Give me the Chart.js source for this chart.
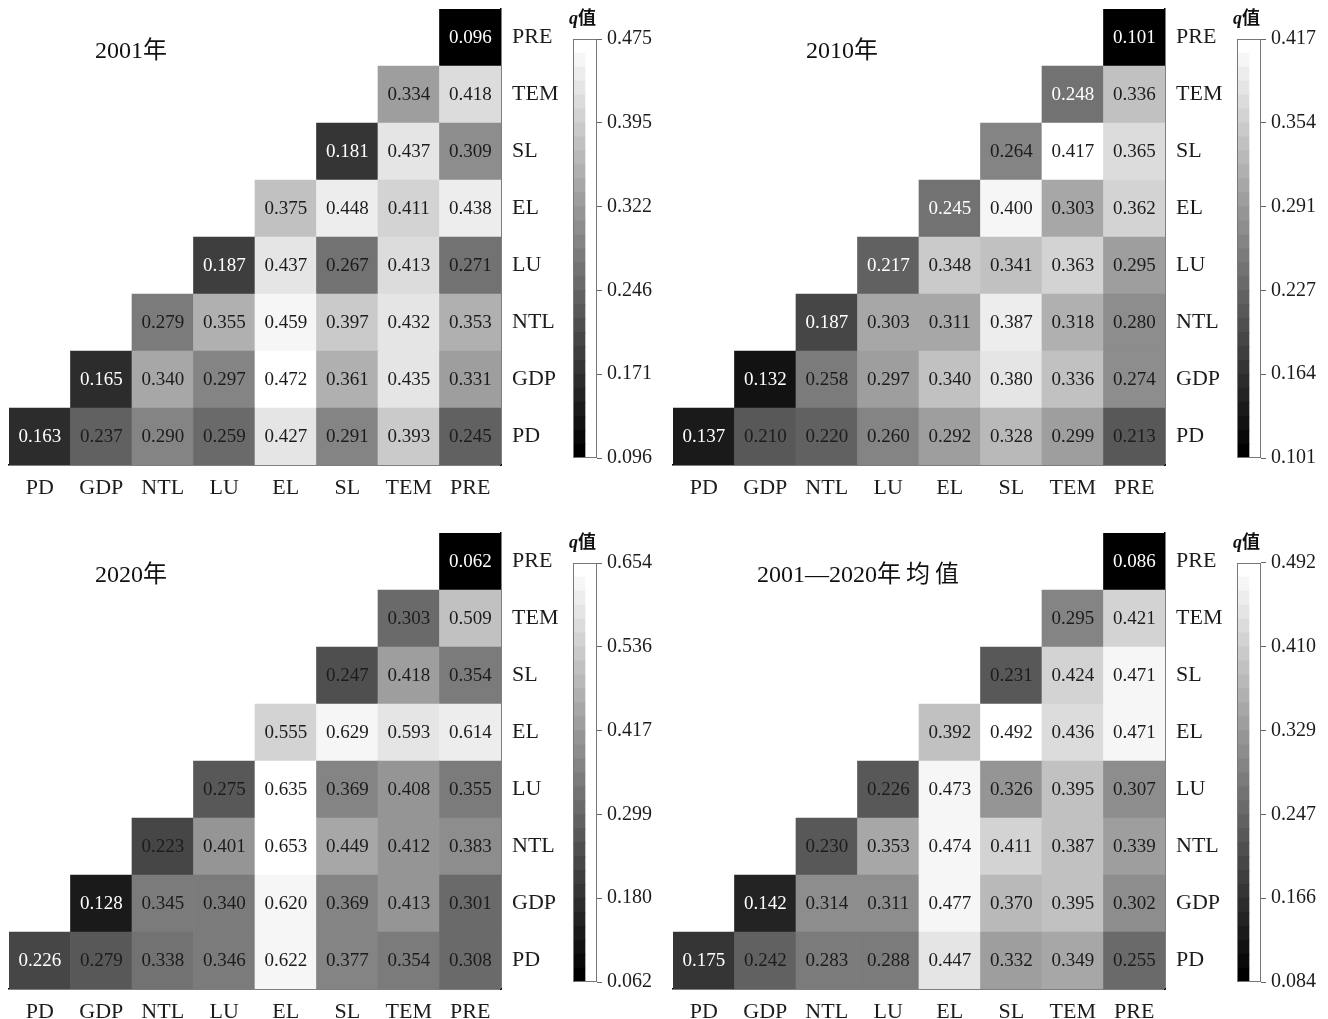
<!DOCTYPE html>
<html>
<head>
<meta charset="utf-8">
<script src="https://cdn.jsdelivr.net/npm/chart.js@4.4.1/dist/chart.umd.min.js"></script>
<style>
    body {
        margin: 0;
        background: #fff;
        width: 1328px;
        height: 1019px;
        position: relative;
        overflow: hidden;
        font-family: 'Liberation Serif', 'Noto Sans CJK SC', serif;
    }
    canvas, .title, .cbtitle {
        position: absolute;
    }
    .title {
        font-size: 24px;
        line-height: 1;
        color: #111;
        white-space: nowrap;
    }
    .title .wide {
        letter-spacing: 5px;
    }
    .cbtitle {
        font-size: 18px;
        line-height: 1;
        font-weight: bold;
        color: #111;
    }
</style>
</head>
<body>
<script>
const FACTORS = ['PD', 'GDP', 'NTL', 'LU', 'EL', 'SL', 'TEM', 'PRE']
const BANDS = 30

// each row: q values from the diagonal cell out to PRE
const q2001 = [
    [0.163, 0.237, 0.290, 0.259, 0.427, 0.291, 0.393, 0.245],
    [0.165, 0.340, 0.297, 0.472, 0.361, 0.435, 0.331],
    [0.279, 0.355, 0.459, 0.397, 0.432, 0.353],
    [0.187, 0.437, 0.267, 0.413, 0.271],
    [0.375, 0.448, 0.411, 0.438],
    [0.181, 0.437, 0.309],
    [0.334, 0.418],
    [0.096],
]
const q2010 = [
    [0.137, 0.210, 0.220, 0.260, 0.292, 0.328, 0.299, 0.213],
    [0.132, 0.258, 0.297, 0.340, 0.380, 0.336, 0.274],
    [0.187, 0.303, 0.311, 0.387, 0.318, 0.280],
    [0.217, 0.348, 0.341, 0.363, 0.295],
    [0.245, 0.400, 0.303, 0.362],
    [0.264, 0.417, 0.365],
    [0.248, 0.336],
    [0.101],
]
const q2020 = [
    [0.226, 0.279, 0.338, 0.346, 0.622, 0.377, 0.354, 0.308],
    [0.128, 0.345, 0.340, 0.620, 0.369, 0.413, 0.301],
    [0.223, 0.401, 0.653, 0.449, 0.412, 0.383],
    [0.275, 0.635, 0.369, 0.408, 0.355],
    [0.555, 0.629, 0.593, 0.614],
    [0.247, 0.418, 0.354],
    [0.303, 0.509],
    [0.062],
]
const qMean = [
    [0.175, 0.242, 0.283, 0.288, 0.447, 0.332, 0.349, 0.255],
    [0.142, 0.314, 0.311, 0.477, 0.370, 0.395, 0.302],
    [0.230, 0.353, 0.474, 0.411, 0.387, 0.339],
    [0.226, 0.473, 0.326, 0.395, 0.307],
    [0.392, 0.492, 0.436, 0.471],
    [0.231, 0.424, 0.471],
    [0.295, 0.421],
    [0.086],
]

// colour bar ranges and tick labels (bottom to top)
const range2001 = [0.096, 0.475]
const range2010 = [0.101, 0.417]
const range2020 = [0.062, 0.654]
const rangeMean = [0.084, 0.492]
const ticks2001 = ['0.096', '0.171', '0.246', '0.322', '0.395', '0.475']
const ticks2010 = ['0.101', '0.164', '0.227', '0.291', '0.354', '0.417']
const ticks2020 = ['0.062', '0.180', '0.299', '0.417', '0.536', '0.654']
const ticksMean = ['0.084', '0.166', '0.247', '0.329', '0.410', '0.492']

// diagonal cells whose number is printed in white
const white2001 = ['PD', 'GDP', 'LU', 'SL', 'PRE']
const white2010 = ['PD', 'GDP', 'NTL', 'LU', 'EL', 'TEM', 'PRE']
const white2020 = ['PD', 'GDP', 'PRE']
const whiteMean = ['PD', 'GDP', 'PRE']

const panels = [
    { title: '2001年', q: q2001, range: range2001, ticks: ticks2001, white: white2001, x: 0, y: 0, tx: 95 },
    { title: '2010年', q: q2010, range: range2010, ticks: ticks2010, white: white2010, x: 664, y: 0, tx: 142 },
    { title: '2020年', q: q2020, range: range2020, ticks: ticks2020, white: white2020, x: 0, y: 524, tx: 95 },
    { title: '2001—2020<span class="wide">年均值</span>', q: qMean, range: rangeMean, ticks: ticksMean, white: whiteMean, x: 664, y: 524, tx: 93 },
]

const SERIF = "'Liberation Serif', 'Noto Sans CJK SC', serif"

function grayLevel(t) {
    const level = Math.max(0, Math.min(BANDS - 1, Math.floor(t * BANDS)))
    const g = Math.round((level / (BANDS - 1)) * 255)
    return `rgb(${g},${g},${g})`
}

function grayFor(v, range) {
    return grayLevel((v - range[0]) / (range[1] - range[0]))
}

function addCanvas(left, top, width, height) {
    const canvas = document.createElement('canvas')
    canvas.width = width
    canvas.height = height
    canvas.style.left = left + 'px'
    canvas.style.top = top + 'px'
    canvas.style.width = width + 'px'
    canvas.style.height = height + 'px'
    document.body.appendChild(canvas)
    return canvas
}

function noEdgePadding(scale) {
    scale.paddingTop = 0
    scale.paddingBottom = 0
    scale.paddingLeft = 0
    scale.paddingRight = 0
}

const cellLabels = {
    id: 'cellLabels',
    afterDatasetsDraw(chart) {
        const ctx = chart.ctx
        ctx.save()
        ctx.font = `19px ${SERIF}`
        ctx.textAlign = 'center'
        ctx.textBaseline = 'middle'
        chart.data.datasets.forEach((ds, i) => {
            chart.getDatasetMeta(i).data.forEach((bar, c) => {
                const v = ds.values[c]
                if (v == null) return
                const p = bar.getCenterPoint()
                ctx.fillStyle = ds.labelColors[c]
                ctx.fillText(v.toFixed(3), p.x, p.y + 1)
            })
        })
        ctx.restore()
    },
}

const barFrame = {
    id: 'barFrame',
    afterDatasetsDraw(chart) {
        const a = chart.chartArea
        const ctx = chart.ctx
        ctx.save()
        ctx.strokeStyle = '#777'
        ctx.lineWidth = 1
        ctx.strokeRect(a.left + 0.5, a.top + 0.5, a.right - a.left - 1, a.bottom - a.top - 1)
        ctx.restore()
    },
}

function drawHeatmap(panel) {
    const canvas = addCanvas(panel.x, panel.y, 580, 500)

    const datasets = FACTORS.map((rowName, r) => {
        const values = FACTORS.map((_, c) => (c >= r ? panel.q[r][c - r] : null))
        return {
            label: rowName,
            data: values.map((v) => (v == null ? null : [r - 0.5, r + 0.5])),
            values: values,
            backgroundColor: values.map((v) => (v == null ? 'rgba(0,0,0,0)' : grayFor(v, panel.range))),
            labelColors: values.map((v, c) =>
                c === r && panel.white.includes(rowName) ? '#fff' : '#1c1c1c'),
            borderWidth: 0,
            barPercentage: 1,
            categoryPercentage: 1,
            grouped: false,
        }
    })

    new Chart(canvas, {
        type: 'bar',
        data: { labels: FACTORS, datasets: datasets },
        options: {
            responsive: false,
            animation: false,
            events: [],
            layout: { padding: { left: 9, top: 9, right: 0, bottom: 0 } },
            plugins: { legend: { display: false }, tooltip: { enabled: false } },
            scales: {
                x: {
                    grid: { display: false, drawTicks: false },
                    border: { display: true, color: '#000', width: 1.5 },
                    ticks: { color: '#1c1c1c', font: { family: SERIF, size: 22 }, padding: 10, maxRotation: 0 },
                    afterFit: (scale) => {
                        scale.height = 35
                        noEdgePadding(scale)
                    },
                },
                y: {
                    position: 'right',
                    min: -0.5,
                    max: 7.5,
                    grid: { display: false, drawTicks: false },
                    border: { display: true, color: '#000', width: 1.5 },
                    afterBuildTicks: (scale) => {
                        scale.ticks = FACTORS.map((_, i) => ({ value: i }))
                    },
                    ticks: {
                        color: '#1c1c1c',
                        font: { family: SERIF, size: 22 },
                        padding: 11,
                        callback: (v) => FACTORS[v],
                    },
                    afterFit: (scale) => {
                        scale.width = 79
                        noEdgePadding(scale)
                    },
                },
            },
        },
        plugins: [cellLabels],
    })
}

function drawColorbar(panel) {
    const canvas = addCanvas(panel.x + 560, panel.y, 104, 500)
    const [lo, hi] = panel.range
    const step = (hi - lo) / BANDS
    const datasets = []
    for (let k = 0; k < BANDS; k++) {
        datasets.push({
            data: [[lo + k * step, lo + (k + 1) * step]],
            backgroundColor: grayLevel((k + 0.5) / BANDS),
            borderWidth: 0,
            barPercentage: 1,
            categoryPercentage: 1,
            grouped: false,
        })
    }
    const n = panel.ticks.length

    new Chart(canvas, {
        type: 'bar',
        data: { labels: [''], datasets: datasets },
        options: {
            responsive: false,
            animation: false,
            events: [],
            layout: { padding: { left: 13, top: 39, right: 0, bottom: 42 } },
            plugins: { legend: { display: false }, tooltip: { enabled: false } },
            scales: {
                x: { display: false, offset: false },
                y: {
                    position: 'right',
                    min: lo,
                    max: hi,
                    border: { display: false },
                    grid: { drawOnChartArea: false, drawTicks: true, tickLength: 5, color: '#666' },
                    afterBuildTicks: (scale) => {
                        scale.ticks = panel.ticks.map((_, i) => ({ value: lo + (i * (hi - lo)) / (n - 1) }))
                    },
                    ticks: {
                        color: '#1c1c1c',
                        font: { family: SERIF, size: 20 },
                        padding: 5,
                        callback: (v, i) => panel.ticks[i],
                    },
                    afterFit: (scale) => {
                        scale.width = 67
                        noEdgePadding(scale)
                    },
                },
            },
        },
        plugins: [barFrame],
    })

    const t = document.createElement('div')
    t.className = 'cbtitle'
    t.innerHTML = '<i>q</i>值'
    t.style.left = panel.x + 569 + 'px'
    t.style.top = panel.y + 9 + 'px'
    document.body.appendChild(t)
}

function drawTitle(panel) {
    const t = document.createElement('div')
    t.className = 'title'
    t.innerHTML = panel.title
    t.style.left = panel.x + panel.tx + 'px'
    t.style.top = panel.y + 38 + 'px'
    document.body.appendChild(t)
}

panels.forEach((panel) => {
    drawHeatmap(panel)
    drawColorbar(panel)
    drawTitle(panel)
})
</script>
</body>
</html>
